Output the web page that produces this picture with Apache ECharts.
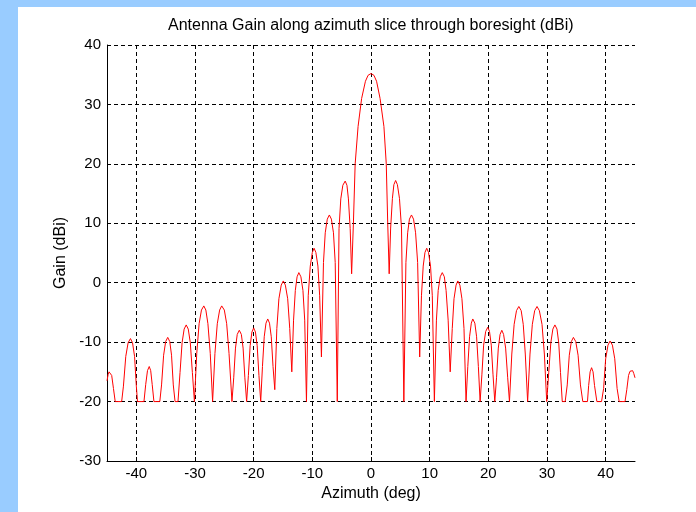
<!DOCTYPE html>
<html>
<head>
<meta charset="utf-8">
<script src="https://cdn.jsdelivr.net/npm/echarts@6/dist/echarts.min.js"></script>
<style>
  html, body { margin: 0; padding: 0; background: #99ccff; }
  #panel { position: absolute; left: 18px; top: 7px; width: 678px; height: 505px; background: #fff; }
  #chart { position: absolute; left: 0; top: 0; width: 696px; height: 512px; }
</style>
</head>
<body>
<div id="panel"></div>
<div id="chart"></div>
<script>
  // azimuth (deg) and gain (dBi), one line per lobe
  var azimuthDeg = [
    -45.0, -44.8, -44.65, -44.5, -44.35, -44.2, -43.9, -43.6, -42.5,
    -42.2, -41.8, -41.4, -41.0, -40.65, -40.3, -40.0, -39.8, -38.7,
    -38.4, -38.1, -37.8, -37.55, -37.3, -37.0, -36.0,
    -35.7, -35.35, -35.0, -34.65, -34.3, -34.0, -33.7, -33.4, -32.9,
    -32.55, -32.2, -31.85, -31.5, -31.15, -30.8, -30.45, -30.1,
    -29.7, -29.3, -28.9, -28.5, -28.15, -27.8, -27.4, -27.0,
    -26.6, -26.2, -25.8, -25.45, -25.0, -24.6, -24.2, -23.7,
    -23.4, -23.1, -22.8, -22.45, -22.1, -21.8, -21.5, -21.2,
    -20.9, -20.6, -20.3, -20.0, -19.7, -19.4, -19.1, -18.8,
    -18.5, -18.2, -17.9, -17.6, -17.3, -17.0, -16.7, -16.4,
    -16.05, -15.7, -15.3, -14.95, -14.6, -14.2, -13.85, -13.5,
    -13.2, -12.9, -12.6, -12.3, -11.95, -11.6, -11.3, -11.0,
    -10.7, -10.35, -10.0, -9.7, -9.4, -9.05, -8.75, -8.45,
    -8.1, -7.8, -7.45, -7.1, -6.75, -6.4, -6.1, -5.75,
    -5.45, -5.15, -4.8, -4.4, -4.1, -3.85, -3.55, -3.3,
    -3.0, -2.7, -2.2, -1.6, -0.95, -0.5, 0, 0.5, 0.95, 1.55, 2.2, 2.6, 2.85, 3.1,
    3.35, 3.65, 3.9, 4.2, 4.5, 4.85, 5.2, 5.6,
    5.95, 6.25, 6.55, 6.9, 7.25, 7.6, 7.95, 8.3,
    8.6, 8.9, 9.2, 9.5, 9.8, 10.15, 10.45, 10.8,
    11.15, 11.45, 11.8, 12.15, 12.5, 12.8, 13.15, 13.5,
    13.85, 14.15, 14.5, 14.8, 15.15, 15.5, 15.85, 16.2,
    16.5, 16.8, 17.1, 17.35, 17.7, 18.0, 18.3, 18.6,
    18.9, 19.2, 19.55, 19.9, 20.2, 20.5, 20.8, 21.1,
    21.4, 21.7, 22.0, 22.3, 22.6, 22.95, 23.3, 23.6,
    24.0, 24.4, 24.8, 25.2, 25.6, 25.95, 26.3, 26.7,
    27.1, 27.5, 27.9, 28.3, 28.7, 29.15, 29.55, 29.95,
    30.3, 30.65, 31.0, 31.35, 31.7, 32.0, 32.3, 32.6, 33.1,
    33.45, 33.8, 34.15, 34.5, 34.9, 35.3, 35.7, 36.1, 36.9,
    37.1, 37.35, 37.6, 37.85, 38.1, 38.5, 39.3,
    39.65, 40.0, 40.4, 40.75, 41.15, 41.55, 41.95, 42.3, 43.3,
    43.6, 43.9, 44.15, 44.4, 44.6, 44.8, 45.0
  ]
  var gainDbi = [
    -16.5, -15.4, -15.0, -14.8, -15.0, -15.6, -17.8, -20, -20,
    -17.4, -12.4, -10.1, -9.4, -10.1, -12.4, -17.4, -20, -20,
    -17.1, -14.8, -14.1, -14.8, -17.1, -20, -20,
    -17.2, -12.2, -9.9, -9.2, -9.9, -12.2, -17.2, -20, -20,
    -15.1, -10.1, -7.8, -7.1, -7.8, -10.1, -15.1, -20,
    -11.9, -6.9, -4.6, -3.9, -4.6, -6.9, -11.9, -20,
    -11.9, -6.9, -4.6, -3.9, -4.6, -6.9, -11.9, -20,
    -16, -11, -8.7, -8, -8.7, -11, -16, -20,
    -15.6, -10.6, -8.3, -7.6, -8.3, -10.6, -15.6, -20,
    -14.1, -9.1, -6.8, -6.1, -6.8, -9.1, -14.1, -18,
    -7.7, -2.7, -0.4, 0.3, -0.4, -2.7, -7.7, -15,
    -6.3, -1.3, 1.0, 1.7, 1.0, -1.3, -6.3, -20,
    -2.2, 2.8, 5.1, 5.8, 5.1, 2.8, -2.2, -12.5,
    3.4, 8.4, 10.7, 11.4, 10.7, 8.4, 3.4, -20,
    9.1, 14.1, 16.4, 17.1, 16.4, 14.1, 9.1, 1.5,
    10, 20, 26.3, 31, 33.9, 34.9, 35.2, 34.9, 33.9, 31, 26.3, 20, 10, 1.5,
    9.2, 14.2, 16.5, 17.2, 16.5, 14.2, 9.2, -20,
    3.4, 8.4, 10.7, 11.4, 10.7, 8.4, 3.4, -12.5,
    -2.2, 2.8, 5.1, 5.8, 5.1, 2.8, -2.2, -20,
    -6.3, -1.3, 1.0, 1.7, 1.0, -1.3, -6.3, -15,
    -7.7, -2.7, -0.4, 0.3, -0.4, -2.7, -7.7, -20,
    -14.1, -9.1, -6.8, -6.1, -6.8, -9.1, -14.1, -20,
    -15.5, -10.5, -8.2, -7.5, -8.2, -10.5, -15.5, -20,
    -16, -11, -8.7, -8, -8.7, -11, -16, -20,
    -12, -7, -4.7, -4, -4.7, -7, -12, -20,
    -12, -7, -4.7, -4, -4.7, -7, -12, -20,
    -15.1, -10.1, -7.8, -7.1, -7.8, -10.1, -15.1, -20, -20,
    -17.2, -12.2, -9.9, -9.2, -9.9, -12.2, -17.2, -20, -20,
    -17.3, -15.0, -14.3, -15.0, -17.3, -20, -20,
    -17.8, -12.8, -10.5, -9.8, -10.5, -12.8, -17.8, -20, -20,
    -18, -15.6, -14.9, -14.6, -14.8, -15.3, -16
  ]
  var xTicks = [-40, -30, -20, -10, 0, 10, 20, 30, 40]
  var yMin = -30
  var yMax = 40

  var font = 'Liberation Sans, Arial, sans-serif'
  var points = azimuthDeg.map(function (a, i) { return [a, gainDbi[i]] })
  var dash = { color: '#000', width: 1, type: [4, 3] }

  var chart = echarts.init(document.getElementById('chart'))
  chart.setOption({
    animation: false,
    graphic: [{
      type: 'text',
      left: 168,
      top: 18,
      style: {
        text: 'Antenna Gain along azimuth slice through boresight (dBi)',
        fill: '#000',
        font: '16px ' + font
      }
    }],
    grid: {
      left: 107,
      top: 45,
      right: 61,
      bottom: 51,
      containLabel: false,
      outerBoundsMode: 'none'
    },
    xAxis: {
      type: 'value',
      min: -45,
      max: 45,
      name: 'Azimuth (deg)',
      nameLocation: 'middle',
      nameGap: 25,
      nameTextStyle: { color: '#000', fontSize: 16, fontFamily: font },
      axisLine: { show: true, onZero: false, lineStyle: { color: '#000', width: 1 } },
      axisTick: { show: true, inside: true, length: 4, customValues: xTicks, lineStyle: { color: '#000' } },
      axisLabel: { customValues: xTicks, color: '#000', fontSize: 15, fontFamily: font, margin: 5 },
      splitLine: { show: true, lineStyle: dash }
    },
    yAxis: {
      type: 'value',
      min: yMin,
      max: yMax,
      interval: 10,
      name: 'Gain (dBi)',
      nameLocation: 'middle',
      nameGap: 37,
      nameTextStyle: { color: '#000', fontSize: 16, fontFamily: font },
      axisLine: { show: true, onZero: false, lineStyle: { color: '#000', width: 1 } },
      axisTick: { show: true, inside: true, length: 4, lineStyle: { color: '#000' } },
      axisLabel: { color: '#000', fontSize: 15, fontFamily: font, margin: 6 },
      splitLine: { show: true, lineStyle: dash }
    },
    series: [{
      type: 'line',
      data: points,
      showSymbol: false,
      lineStyle: { color: '#ff0000', width: 1 }
    }]
  })
</script>
</body>
</html>
